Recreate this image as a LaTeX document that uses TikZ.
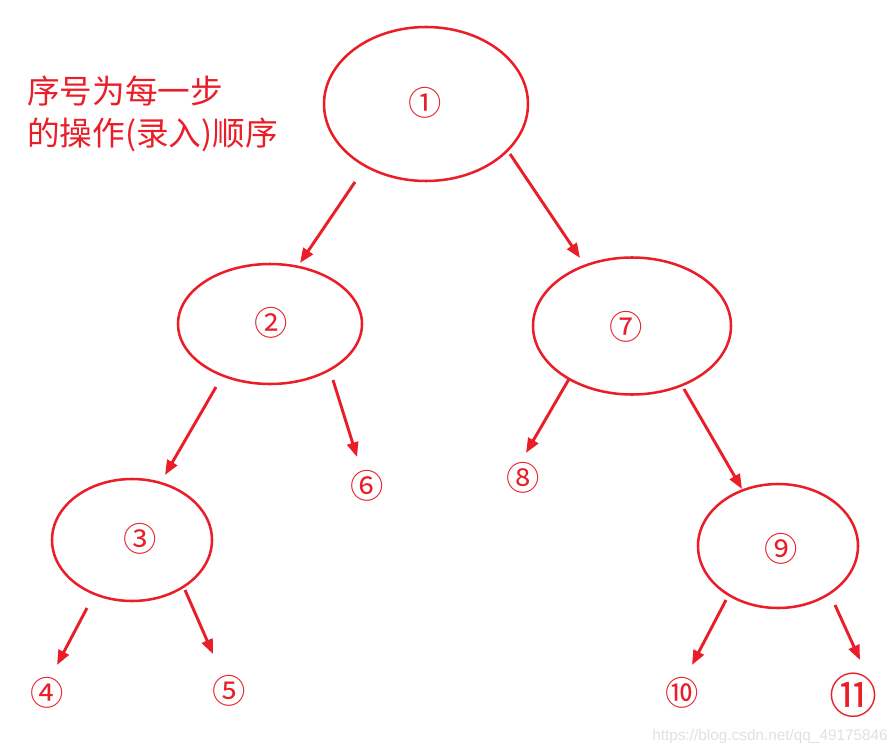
\documentclass[tikz,border=0pt]{standalone}
\usepackage{fontspec}
\setmainfont{Noto Sans CJK SC}
\newfontfamily\markfont{Liberation Sans}
\usepackage{xcolor}
\usetikzlibrary{arrows.meta,shapes.geometric}
\definecolor{penred}{RGB}{234,30,40}
\tikzset{
  rec/.style={ellipse,draw=penred,line width=1.9pt,inner sep=0pt,text=penred,
    font=\fontsize{25}{29}\selectfont},
  leaf/.style={text=penred,inner sep=0pt,font=\fontsize{25}{29}\selectfont},
  arr/.style={penred,line width=2.2pt,-{Triangle[length=11pt,width=8.5pt]}}
}

\begin{document}
\begin{tikzpicture}[x=0.75pt,y=-0.75pt]
  \useasboundingbox (0,0) rectangle (896,756);
  % note
  \node[anchor=west,align=left,text=penred,inner sep=0pt,
        font=\fontsize{24.5}{31.5}\selectfont] (note) at (27,114)
        {序号为每一步\\的操作(录入)顺序};
  % recorded nodes
  \node[rec,minimum width=153pt,minimum height=115.5pt] (e1) at (426,104) {};
  \node[rec,minimum width=138pt,minimum height=90pt] (e2) at (270,324) {};
  \node[rec,minimum width=120pt,minimum height=91.5pt] (e3) at (132,540) {};
  \node[rec,minimum width=148.5pt,minimum height=102.75pt] (e7) at (632,326) {};
  \node[rec,minimum width=120pt,minimum height=93pt] (e9) at (778,546) {};
  \node[leaf] (n1) at (425,103) {①};
  \node[leaf] (n2) at (271,323) {②};
  \node[leaf] (n3) at (140,539) {③};
  \node[leaf] (n7) at (626,327) {⑦};
  \node[leaf] (n9) at (781,549) {⑨};
  % empty children
  \node[leaf] (n4) at (47,693) {④};
  \node[leaf] (n5) at (229,691) {⑤};
  \node[leaf] (n6) at (367,486) {⑥};
  \node[leaf] (n8) at (523,478) {⑧};
  \node[leaf] (n10) at (682,693) {⑩};
  \node[leaf,font=\fontsize{36}{40}\selectfont] (n11) at (853,695) {⑪};
  % arrow ends
  \coordinate (a1s) at (355,182); \coordinate (a1e) at (300,263);
  \coordinate (a2s) at (510,154); \coordinate (a2e) at (580,258);
  \coordinate (b1s) at (216,387); \coordinate (b1e) at (165,475);
  \coordinate (b2s) at (333,380); \coordinate (b2e) at (357,457);
  \coordinate (c1s) at (87,608);  \coordinate (c1e) at (57,665);
  \coordinate (c2s) at (185,590); \coordinate (c2e) at (213,654);
  \coordinate (d1s) at (569,379); \coordinate (d1e) at (526,453);
  \coordinate (d2s) at (684,389); \coordinate (d2e) at (742,489);
  \coordinate (f1s) at (726,600); \coordinate (f1e) at (692,665);
  \coordinate (f2s) at (835,605); \coordinate (f2e) at (860,660);
  \foreach \p in {a1,a2,b1,b2,c1,c2,d1,d2,f1,f2}
    \draw[arr] (\p s) -- (\p e);
  % watermark
  \node[anchor=east,text=black!12,inner sep=0pt,font=\markfont\fontsize{11.5}{13}\selectfont]
    (mark) at (888,737) {https://blog.csdn.net/qq\_49175846};
\end{tikzpicture}
\end{document}
